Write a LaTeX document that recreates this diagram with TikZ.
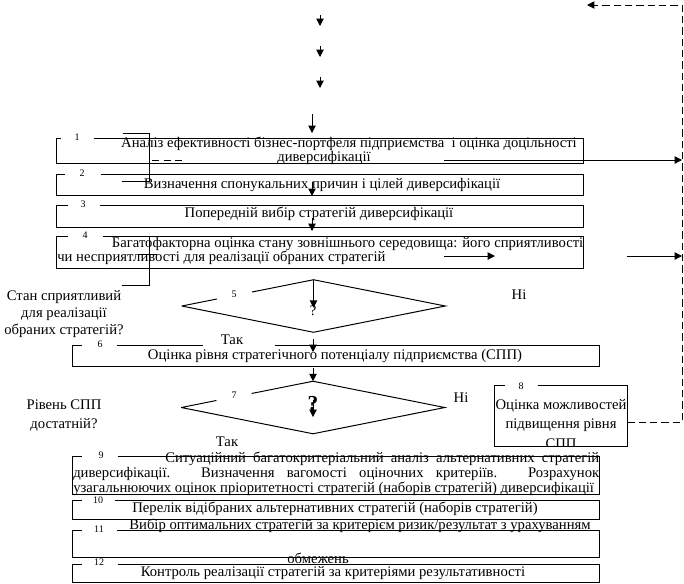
\documentclass[tikz,border=0pt]{standalone}
\usepackage{fontspec}
\setmainfont{Liberation Serif}
\usetikzlibrary{arrows.meta,calc}
\newcommand\gapbox[3]{\draw[ln] ([xshift=#3*0.75pt]#1.north west) -- (#1.north east) -- (#1.south east) -- (#1.south west) -- (#1.north west) -- ([xshift=#2*0.75pt]#1.north west);}
\begin{document}
\begin{tikzpicture}[x=0.75pt,y=-0.75pt,
  every node/.style={inner sep=0pt,font=\fontsize{11}{11}\selectfont},
  ln/.style={line width=0.75pt},
  arr/.style={ln,-{Triangle[length=5.5pt,width=5.5pt]}},
  fb/.style={ln,dash pattern=on 5.5pt off 3pt},
  boxa/.style={minimum width=394.5pt,minimum height=#1*0.75pt},
  num/.style={font=\fontsize{7.5}{7.5}\selectfont},
  decision/.style={minimum width=#1*0.75pt,minimum height=52*0.75pt}
]
\useasboundingbox (0,0) rectangle (684,583);

% boxes (geometry)
\node[boxa=24] (b1) at (320,151) {};
\node[boxa=20] (b2) at (320,185) {};
\node[boxa=21] (b3) at (320,216.5) {};
\node[boxa=31] (b4) at (320,252.5) {};
\node[boxa=20] (b6) at (336,356) {};
\node[minimum width=99pt,minimum height=45pt] (b8) at (561,416) {};
\node[boxa=37] (b9) at (336,475.5) {};
\node[boxa=18] (b10) at (336,510) {};
\node[boxa=26] (b11) at (336,544) {};

\node[decision=263] (d5) at (313.5,306) {};
\node[decision=263] (d7) at (313,407.5) {};

% stray lines
\draw[ln] (123,133) -- (149,133) -- (149,181) -- (122,181);
\draw[ln] (149,237) -- (149,285) -- (122,285);
\draw[ln,dash pattern=on 5.25pt off 3.4pt] (152,160) -- (182,160);
\draw[ln] (138,254) -- (157,254);

% borders
\gapbox{b1}{4}{37}
\gapbox{b2}{8}{44}
\gapbox{b3}{11}{43}
\gapbox{b4}{11}{46}
\draw[ln] ([xshift=202*0.75pt]b6.north west) -- (b6.north east) |- (b6.south west) |- ([xshift=9*0.75pt]b6.north west);
\draw[ln] ([xshift=44*0.75pt]b6.north west) -- ([xshift=130*0.75pt]b6.north west);
\gapbox{b8}{10}{43}
\gapbox{b9}{9}{45}
\gapbox{b10}{9}{42}
\gapbox{b11}{9}{44}
\draw[ln] (d5.west) -- ($(d5.west)!0.267!(d5.north)$) ($(d5.west)!0.534!(d5.north)$) -- (d5.north) -- (d5.east) -- (d5.south) -- (d5.west);
\draw[ln] (d7.west) -- ($(d7.west)!0.267!(d7.north)$) ($(d7.west)!0.534!(d7.north)$) -- (d7.north) -- (d7.east) -- (d7.south) -- (d7.west);

% numbers
\node[num] (n1) at (77,137) {1};
\node[num] (n2) at (82,173) {2};
\node[num] (n3) at (83,204) {3};
\node[num] (n4) at (85,235) {4};
\node[num] (n5) at (234,294) {5};
\node[num] (n6) at (100,344) {6};
\node[num] (n7) at (234,395) {7};
\node[num] (n8) at (521,386) {8};
\node[num] (n9) at (101,455) {9};
\node[num] (n10) at (98,500) {10};
\node[num] (n11) at (99,529) {11};
\node[num] (n12) at (99,562) {12};

% texts
\node (t1a) at (349,144) {Аналіз ефективності бізнес-портфеля підприємства\ \ і оцінка доцільності};
\node (t1b) at (324,158) {диверсифікації};
\node (t2) at (322,185) {Визначення спонукальних причин і цілей диверсифікації};
\node (t3) at (319,214) {Попередній вибір стратегій диверсифікації};
\node[anchor=west,text width=394.5pt,align=justify,font=\fontsize{11}{10.5}\selectfont] (t4) at (57,251) {\hspace*{41pt}Багатофакторна оцінка стану зовнішнього середовища: його сприятливості\linebreak чи несприятливості для реалізації обраних стратегій};
\node[align=center,font=\fontsize{11}{12.75}\selectfont] (q1) at (64,314) {Стан сприятливий\\для реалізації\\обраних стратегій?};
\node (q5) at (313,311) {?};
\node (ni5) at (519,295) {Ні};
\node (tak5) at (232,340) {Так};
\node (t6) at (335,356) {Оцінка рівня стратегічного потенціалу підприємства (СПП)};
\node[align=center,font=\fontsize{11}{14.25}\selectfont] (q2) at (64,415.5) {Рівень СПП\\достатній?};
\node[font=\bfseries\fontsize{16}{16}\selectfont] (q7) at (313,404) {?};
\node (ni7) at (461,398) {Ні};
\node (tak7) at (227,442) {Так};
\begin{scope}
\clip (b8.north west) rectangle (b8.south east);
\node[align=center,font=\fontsize{11}{14.6}\selectfont] (t8) at (561,424) {Оцінка можливостей\\підвищення рівня\\СПП};
\end{scope}
\node[anchor=west,text width=394.5pt,align=justify,font=\fontsize{11}{11.25}\selectfont] (t9) at (73,473.5) {\hspace*{69pt}Ситуаційний багатокритеріальний аналіз альтернативних стратегій\linebreak диверсифікації. Визначення вагомості оціночних критеріїв. Розрахунок\linebreak узагальнюючих оцінок пріоритетності стратегій (наборів стратегій) диверсифікації};
\node (t10) at (335,509) {Перелік відібраних альтернативних стратегій (наборів стратегій)};
\node (t11) at (360,526) {Вибір оптимальних стратегій за критерієм ризик/результат з урахуванням};
\node (t11b) at (318,558) {обмежень};
\node[boxa=17,fill=white] (b12) at (336,573.5) {};
\gapbox{b12}{9}{45}
\node (t12) at (333,573) {Контроль реалізації стратегій за критеріями результативності};

% arrows
\coordinate (a1s) at (320,15); \coordinate (a1e) at (320,26);
\coordinate (a2s) at (320,46); \coordinate (a2e) at (320,57);
\coordinate (a3s) at (320,77); \coordinate (a3e) at (320,88);
\coordinate (a4s) at (312,114); \coordinate (a4e) at (312,133);
\coordinate (a5s) at (312,182); \coordinate (a5e) at (312,196);
\coordinate (a6s) at (312,218); \coordinate (a6e) at (312,231);
\coordinate (a8s) at (313,339); \coordinate (a8e) at (313,352);
\coordinate (a9s) at (313,368);
\coordinate (a10s) at (313,400); \coordinate (a10e) at (313,417);
\draw[arr] (a1s) -- (a1e);
\draw[arr] (a2s) -- (a2e);
\draw[arr] (a3s) -- (a3e);
\draw[arr] (a4s) -- (a4e);
\draw[arr] (a5s) -- (a5e);
\draw[arr] (a6s) -- (a6e);
\draw[arr] (d5.north) -- ++(0,28);
\draw[arr] (a8s) -- (a8e);
\draw[arr] (a9s) -- (d7.north);
\draw[arr] (a10s) -- (a10e);

\coordinate (r1s) at (444,160); \coordinate (r1e) at (682,160);
\coordinate (r2s) at (444,256); \coordinate (r2e) at (495,256);
\coordinate (r3s) at (627,256); \coordinate (r3e) at (682,256);
\draw[arr] (r1s) -- (r1e);
\draw[arr] (r2s) -- (r2e);
\draw[arr] (r3s) -- (r3e);

\coordinate (fb0) at ($(b8.east)+(0,6)$);
\coordinate (fb1) at (682,422);
\coordinate (fb2) at (682,5);
\coordinate (fb3) at (587,5);
\draw[fb,-{Triangle[length=5.5pt,width=5.5pt]}] (fb0) -- (fb1) -- (fb2) -- (fb3);
\end{tikzpicture}
\end{document}
